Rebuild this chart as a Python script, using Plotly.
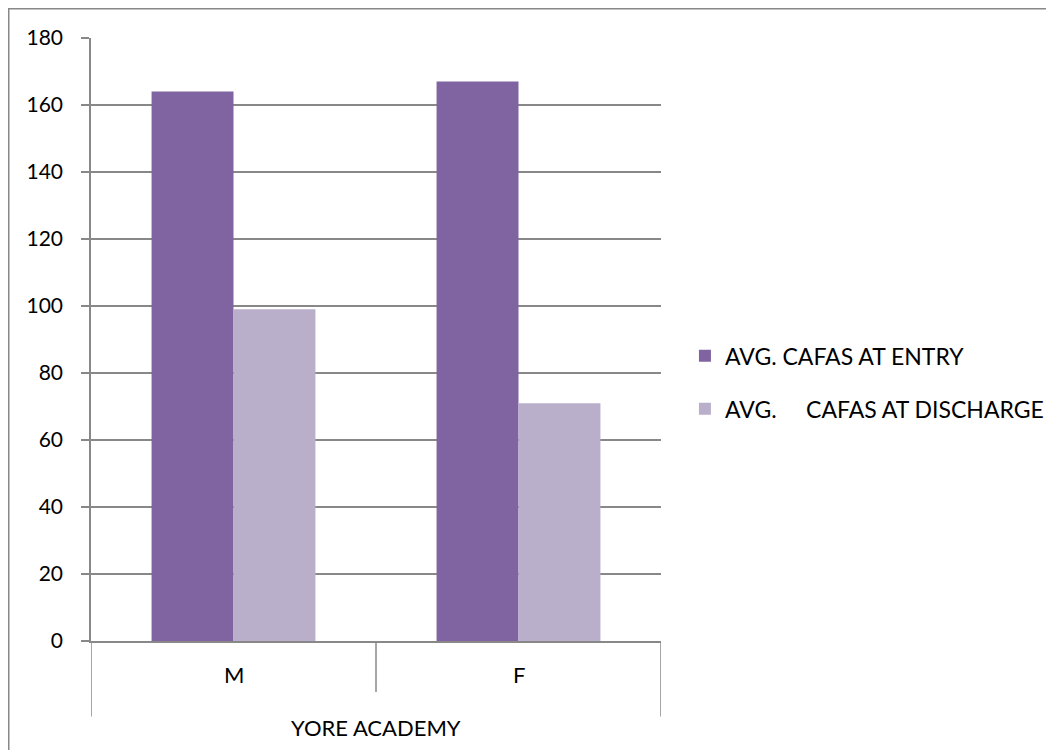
import plotly.graph_objects as go

group_label = "YORE ACADEMY"
genders = ["M", "F"]
entry_vals = [164, 167]
discharge_vals = [99, 71]
series_names = ["AVG. CAFAS AT ENTRY", "AVG.\u00a0\u00a0\u00a0\u00a0 CAFAS AT DISCHARGE"]
colors = ["#8064A2", "#B9AFCB"]
y_ticks = list(range(0, 181, 20))

FONT = "Lato, 'Open Sans', sans-serif"
GRID = "#888888"

W, H = 1046, 742
L, T, R, B = 83, 30, 393, 108.5
plot_h = H - T - B

fig = go.Figure()
fig.add_trace(go.Bar(x=genders, y=entry_vals, name=series_names[0],
                     marker=dict(color=colors[0], line=dict(width=0)), legendgroup="a"))
fig.add_trace(go.Bar(x=genders, y=discharge_vals, name=series_names[1],
                     marker=dict(color=colors[1], line=dict(width=0)), legendgroup="b"))

fig.update_layout(
    width=W, height=H,
    margin=dict(l=L, r=R, t=T, b=B, autoexpand=False),
    paper_bgcolor="white", plot_bgcolor="white",
    barmode="group", bargap=0.425, bargroupgap=0,
    font=dict(family=FONT, size=20, color="#000000"),
    legend=dict(x=1.042, y=0.429, xanchor="left", yanchor="middle",
                font=dict(size=23), tracegroupgap=20, bgcolor="rgba(0,0,0,0)"),
    showlegend=True,
)
fig.update_yaxes(range=[0, 180], tickvals=y_ticks, showgrid=True, gridcolor=GRID, gridwidth=1.5,
                 showline=True, linecolor=GRID, linewidth=1.5, ticks="outside", ticklen=8,
                 tickcolor=GRID, tickwidth=1.5, ticklabelstandoff=14, zeroline=False,
                 automargin=False, tickfont=dict(size=21))
fig.update_xaxes(type="category", range=[-0.5, len(genders) - 0.5], showline=True,
                 linecolor=GRID, linewidth=1.5, ticks="", showticklabels=False,
                 automargin=False)

# category labels
for i, g in enumerate(genders):
    fig.add_annotation(x=i, xref="x", y=-34 / plot_h, yref="paper", text=g,
                       showarrow=False, font=dict(size=22), xanchor="center", yanchor="middle")
fig.add_annotation(x=(len(genders) - 1) / 2, xref="x", y=-87 / plot_h, yref="paper",
                   text=group_label, showarrow=False, font=dict(size=22),
                   xanchor="center", yanchor="middle")

# axis boundary lines below the plot
for k in range(len(genders) + 1):
    outer = k in (0, len(genders))
    fig.add_shape(type="line", xref="x", yref="paper", x0=k - 0.5, x1=k - 0.5,
                  y0=0, y1=-(75.5 if outer else 51) / plot_h,
                  line=dict(color=GRID, width=1.5))

# outer chart border (top and left edges visible)
fig.add_shape(type="rect", xref="paper", yref="paper",
              x0=-(L - 0.75) / 570, x1=1.9, y0=-0.4, y1=1 + (T - 0.75) / plot_h,
              line=dict(color=GRID, width=1.5), fillcolor="rgba(0,0,0,0)", layer="below")

fig.write_html("out.html")
